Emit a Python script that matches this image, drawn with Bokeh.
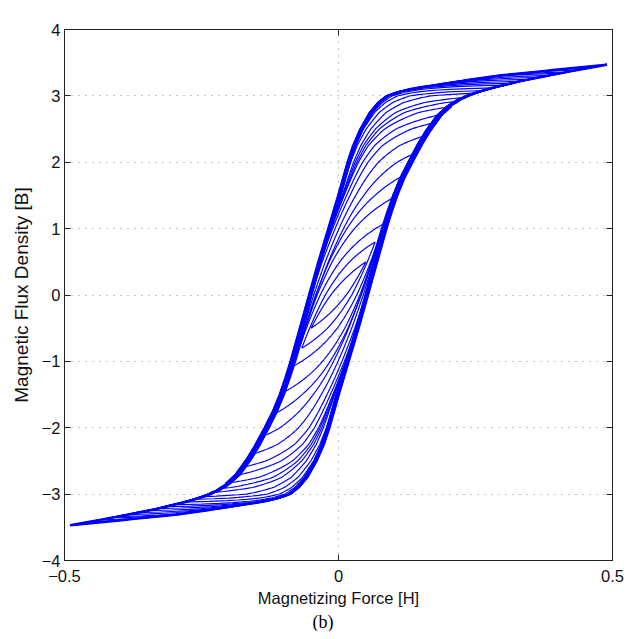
import numpy as np
from bokeh.plotting import figure
from bokeh.models import Range1d, LinearAxis, Title, FixedTicker, ColumnDataSource
from bokeh.embed import file_html
from bokeh.resources import INLINE

# ---- data ----
# major loop, descending branch: magnetizing force H and flux density B
major_H = [-0.49, -0.43, -0.373, -0.33, -0.30, -0.28, -0.26, -0.24, -0.22, -0.20,
           -0.18, -0.16, -0.146, -0.128, -0.113, -0.101, -0.091, -0.082, -0.066, -0.05,
           -0.033, -0.015, 0.003, 0.02, 0.03, 0.043, 0.06, 0.075, 0.09, 0.11,
           0.13, 0.15, 0.174, 0.22, 0.296, 0.38, 0.49]
major_B = [-3.47, -3.38, -3.29, -3.22, -3.16, -3.12, -3.075, -3.02, -2.95, -2.85,
           -2.70, -2.47, -2.28, -2.0, -1.75, -1.5, -1.25, -1.0, -0.5, 0.0,
           0.5, 1.0, 1.5, 2.0, 2.25, 2.5, 2.75, 2.9, 3.0, 3.06,
           3.10, 3.13, 3.16, 3.22, 3.31, 3.38, 3.47]

# symmetric loops: upper tip (H, B); lower tip is (-H, -B)
tip_H = [0.050, 0.067, 0.084, 0.101, 0.118, 0.135, 0.157, 0.177, 0.192, 0.207, 0.220,
         0.234, 0.250, 0.267, 0.284, 0.301, 0.318, 0.335, 0.352, 0.370, 0.387, 0.404,
         0.421, 0.438, 0.455, 0.472, 0.490]
tip_B = [0.50, 0.80, 1.08, 1.47, 1.80, 2.12, 2.40, 2.60, 2.73, 2.84, 2.92,
         2.98, 3.04, 3.08, 3.12, 3.16, 3.19, 3.22, 3.25, 3.28, 3.31, 3.34,
         3.36, 3.39, 3.42, 3.44, 3.47]

x_ticks = [-0.5, 0.0, 0.5]
x_tick_labels = ["\u22120.5", "0", "0.5"]
y_ticks = [-4, -3, -2, -1, 0, 1, 2, 3, 4]
y_tick_labels = ["\u22124", "\u22123", "\u22122", "\u22121", "0", "1", "2", "3", "4"]

# ---- build each loop from the major branch and its tips ----
mH = np.array(major_H)
mB = np.array(major_B)


def h_major(b):
    return np.interp(b, mB, mH)


A1, MU1, MU2 = 0.45, 0.012, 0.04
xs, ys = [], []
for Hm, Bm in zip(tip_H, tip_B):
    b = np.linspace(Bm, -Bm, 600)
    u_top = h_major(Bm)
    u = h_major(b)
    du = u_top - u
    dmax = u_top - h_major(-Bm)

    def E(mu):
        return (np.exp(-du / mu) - np.exp(-dmax / mu)) / (1 - np.exp(-dmax / mu))

    G = A1 * E(MU1) + (1 - A1) * E(MU2)
    e = -Hm - h_major(-Bm)
    gap = Hm - u_top
    h_desc = u + e + (gap - e) * G
    xs.append(np.concatenate([h_desc, -h_desc]).tolist())
    ys.append(np.concatenate([b, -b]).tolist())

src = ColumnDataSource(dict(xs=xs, ys=ys))
major_src = ColumnDataSource(dict(x=xs[-1], y=ys[-1]))

p = figure(width=625, height=631, x_range=Range1d(-0.5, 0.5), y_range=Range1d(-4, 4),
           output_backend="svg", toolbar_location=None,
           min_border_left=64, min_border_right=13, min_border_top=29, min_border_bottom=71)
p.background_fill_color = "white"
p.border_fill_color = "white"
p.outline_line_color = "#222222"
p.outline_line_width = 1

p.multi_line("xs", "ys", source=src, line_color="#0000ff", line_width=1.2)
p.line("x", "y", source=major_src, line_color="#0000ff", line_width=2.4)

FONT = "Liberation Sans"
for ax in (p.xaxis[0], p.yaxis[0]):
    ax.major_tick_in = 6
    ax.major_tick_out = 0
    ax.minor_tick_line_color = None
    ax.axis_line_color = "#222222"
    ax.major_tick_line_color = "#222222"
    ax.major_label_text_font = FONT
    ax.major_label_text_font_size = "16.5px"
    ax.major_label_text_color = "#111111"
    ax.axis_label_text_font = FONT
    ax.axis_label_text_font_style = "normal"
    ax.axis_label_text_color = "#111111"

p.xaxis[0].ticker = FixedTicker(ticks=x_ticks)
p.yaxis[0].ticker = FixedTicker(ticks=y_ticks)
p.xaxis[0].major_label_overrides = {t: l for t, l in zip(x_ticks, x_tick_labels)}
p.yaxis[0].major_label_overrides = {t: l for t, l in zip(y_ticks, y_tick_labels)}
p.xaxis[0].major_label_standoff = 9
p.yaxis[0].major_label_standoff = 4
p.xaxis[0].axis_label = "Magnetizing Force [H]"
p.yaxis[0].axis_label = "Magnetic Flux Density [B]"
p.xaxis[0].axis_label_text_font_size = "16.5px"
p.yaxis[0].axis_label_text_font_size = "19px"
p.xaxis[0].axis_label_standoff = 4
p.yaxis[0].axis_label_standoff = 7

# mirrored ticks on the right and top (box style)
for loc, tk in (("right", y_ticks), ("above", x_ticks)):
    ax = LinearAxis(ticker=FixedTicker(ticks=tk))
    ax.major_tick_in = 6
    ax.major_tick_out = 0
    ax.minor_tick_line_color = None
    ax.axis_line_color = "#222222"
    ax.major_tick_line_color = "#222222"
    ax.major_label_text_font_size = "0px"
    ax.major_label_standoff = 0
    p.add_layout(ax, loc)

p.xgrid.ticker = FixedTicker(ticks=x_ticks)
p.ygrid.ticker = FixedTicker(ticks=y_ticks)
for g in (p.xgrid[0], p.ygrid[0]):
    g.grid_line_color = "#8a8a8a"
    g.grid_line_dash = "1 6"
    g.grid_line_width = 1

# sub-figure caption under the axis label
p.add_layout(Title(text="(b)", align="left", offset=248, standoff=0,
                   text_font="Liberation Serif", text_font_size="18px",
                   text_font_style="normal", text_color="#000000"), "below")

open("out.html", "w").write(file_html(p, INLINE))
